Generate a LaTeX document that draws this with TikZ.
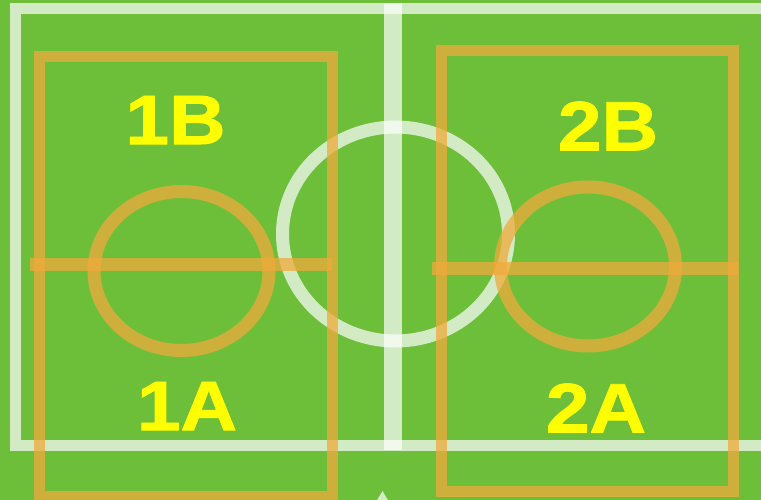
\documentclass[tikz,border=0pt]{standalone}
\usepackage{fontspec}
\setmainfont{Liberation Sans}[BoldFeatures={FakeBold=1.2}]
\definecolor{pitchgreen}{RGB}{109,191,58}
\definecolor{zoneorange}{RGB}{240,170,60}
\definecolor{zoneyellow}{RGB}{255,255,0}
\usetikzlibrary{positioning}

\begin{document}
\begin{tikzpicture}[
  x=1pt, y=-1pt,
  chalk/.style={draw=white, draw opacity=0.7, line width=11pt},
  zone/.style={draw=zoneorange, draw opacity=0.75, line width=11pt},
  zoneline/.style={zone, line width=13pt},
  zonelabel/.style={text=zoneyellow, inner sep=0pt, xscale=1.12, transform shape,
    font=\bfseries\fontsize{70}{70}\selectfont}
]
\useasboundingbox (0,0) rectangle (761,500);
\fill[pitchgreen] (0,0) rectangle (761,500);
\clip (0,0) rectangle (761,500);

% pitch markings
\draw[chalk] (15.5,8.5) rectangle (780,445);
\draw[chalk, line width=18pt] (392.5,3) -- (392.5,450);
\draw[chalk, line width=13pt] (395.5,234) ellipse [x radius=113pt, y radius=107pt];
\fill[white, opacity=0.7] (382.5,491) -- (392,507) -- (373,507) -- cycle;

% left half
\draw[zone] (39,57) rectangle (332,496);
\draw[zoneline] (30,264) -- (332,264);
\draw[zoneline] (181.5,271) ellipse [x radius=87.5pt, y radius=79.5pt];

% right half
\draw[zone] (441,51) rectangle (733.5,491);
\draw[zoneline] (432,268) -- (738,268);
\draw[zoneline] (588,266.5) ellipse [x radius=87.5pt, y radius=79.5pt];

% labels
\node[zonelabel] (l1b) at (175.5,120) {1B};
\node[zonelabel] (l2b) at (608,126) {2B};
\node[zonelabel] (l1a) at (187,406) {1A};
\node[zonelabel] (l2a) at (596,408) {2A};
\end{tikzpicture}
\end{document}
